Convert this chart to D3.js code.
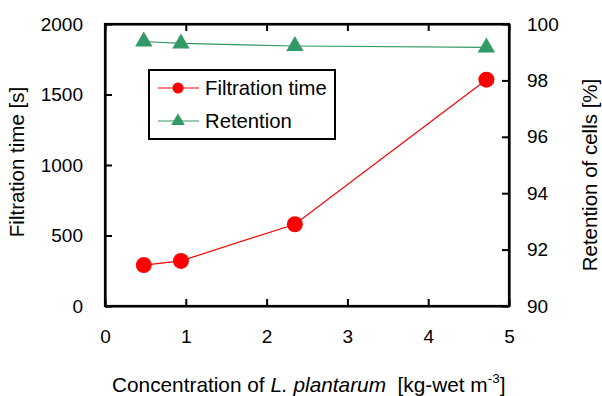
<!DOCTYPE html>
<html><head><meta charset="utf-8">
<script src="https://cdn.jsdelivr.net/npm/d3@7"></script>
<style>
body{margin:0;background:#fff;}
text{font-family:"Liberation Sans",Arial,sans-serif;fill:#000;}
</style></head>
<body>
<svg id="c" width="602" height="396"></svg>
<script>
const concentration = [0.48, 0.94, 2.35, 4.72];
const filtrationTime = [290, 320, 580, 1605];
const retention = [99.38, 99.31, 99.22, 99.17];
const xTicks = [0, 1, 2, 3, 4, 5];
const yLeftTicks = [0, 500, 1000, 1500, 2000];
const yRightTicks = [90, 92, 94, 96, 98, 100];
const seriesNames = ["Filtration time", "Retention"];

const svg = d3.select("#c");
const L = 105, R = 509, T = 24, B = 306;
const x = d3.scaleLinear().domain([0,5]).range([L,R]);
const yL = d3.scaleLinear().domain([0,2000]).range([B,T]);
const yR = d3.scaleLinear().domain([90,100]).range([B,T]);
const red = "#ff0000", green = "#339966";
const tl = 7;

// axes
const axB = svg.append("g").attr("transform",`translate(0,${B})`)
  .call(d3.axisBottom(x).tickValues(xTicks).tickSizeInner(-tl).tickSizeOuter(0).tickPadding(24).tickFormat(d3.format("d")));
const axT = svg.append("g").attr("transform",`translate(0,${T})`)
  .call(d3.axisTop(x).tickValues(xTicks).tickSizeInner(-tl).tickSizeOuter(0).tickFormat(""));
const axL = svg.append("g").attr("transform",`translate(${L},0)`)
  .call(d3.axisLeft(yL).tickValues(yLeftTicks).tickSizeInner(-tl).tickSizeOuter(0).tickPadding(22).tickFormat(d3.format("d")));
const axR = svg.append("g").attr("transform",`translate(${R},0)`)
  .call(d3.axisRight(yR).tickValues(yRightTicks).tickSizeInner(-tl).tickSizeOuter(0).tickPadding(18).tickFormat(d3.format("d")));
[axB,axT,axL,axR].forEach(a=>{
  a.select(".domain").attr("stroke","#000").attr("stroke-width",2.2);
  a.selectAll(".tick line").attr("stroke","#000").attr("stroke-width",2);
  a.selectAll(".tick text").attr("font-size",19).attr("font-family","Liberation Sans, Arial, sans-serif").attr("fill","#000");
});
svg.append("rect").attr("x",L).attr("y",T).attr("width",R-L).attr("height",B-T)
  .attr("fill","none").attr("stroke","#000").attr("stroke-width",2.2);

// lines
const lineF = d3.line().x((d,i)=>x(concentration[i])).y(d=>yL(d));
const lineR = d3.line().x((d,i)=>x(concentration[i])).y(d=>yR(d));
svg.append("path").attr("d",lineR(retention)).attr("fill","none").attr("stroke",green).attr("stroke-width",1.2);
svg.append("path").attr("d",lineF(filtrationTime)).attr("fill","none").attr("stroke",red).attr("stroke-width",1.2);

const tri = d3.symbol().type(d3.symbolTriangle);
svg.selectAll(".tr").data(retention).enter().append("path")
  .attr("d",tri.size(130)()).attr("fill",green)
  .attr("transform",(d,i)=>`translate(${x(concentration[i])},${yR(d)})`);
svg.selectAll(".ci").data(filtrationTime).enter().append("circle")
  .attr("cx",(d,i)=>x(concentration[i])).attr("cy",d=>yL(d)).attr("r",8).attr("fill",red);

// legend
const lg = svg.append("g");
lg.append("rect").attr("x",149).attr("y",70).attr("width",186).attr("height",69)
  .attr("fill","#fff").attr("stroke","#000").attr("stroke-width",2);
const rows = [88, 121];
seriesNames.forEach((n,i)=>{
  const c = i===0?red:green;
  lg.append("line").attr("x1",158).attr("x2",199).attr("y1",rows[i]).attr("y2",rows[i]).attr("stroke",c).attr("stroke-width",1.2);
  if(i===0) lg.append("circle").attr("cx",178).attr("cy",rows[i]).attr("r",5.5).attr("fill",c);
  else lg.append("path").attr("d",tri.size(80)()).attr("fill",c).attr("transform",`translate(178,${rows[i]})`);
  lg.append("text").attr("x",205).attr("y",rows[i]).attr("dy","0.36em").attr("font-size",20.3).text(n);
});

// titles
svg.append("text").attr("transform","translate(24,162) rotate(-90)").attr("text-anchor","middle")
  .attr("font-size",20.5).text("Filtration time [s]");
svg.append("text").attr("transform","translate(597,175) rotate(-90)").attr("text-anchor","middle")
  .attr("font-size",20.5).text("Retention of cells [%]");
const xt = svg.append("text").attr("x",112).attr("y",392).attr("font-size",20.8);
xt.append("tspan").text("Concentration of ");
xt.append("tspan").attr("font-style","italic").text("L. plantarum");
xt.append("tspan").attr("xml:space","preserve").text("  [kg-wet m");
xt.append("tspan").attr("font-size",13.5).attr("dy",-9).text("-3");
xt.append("tspan").attr("dy",9).text("]");
</script>
</body></html>
